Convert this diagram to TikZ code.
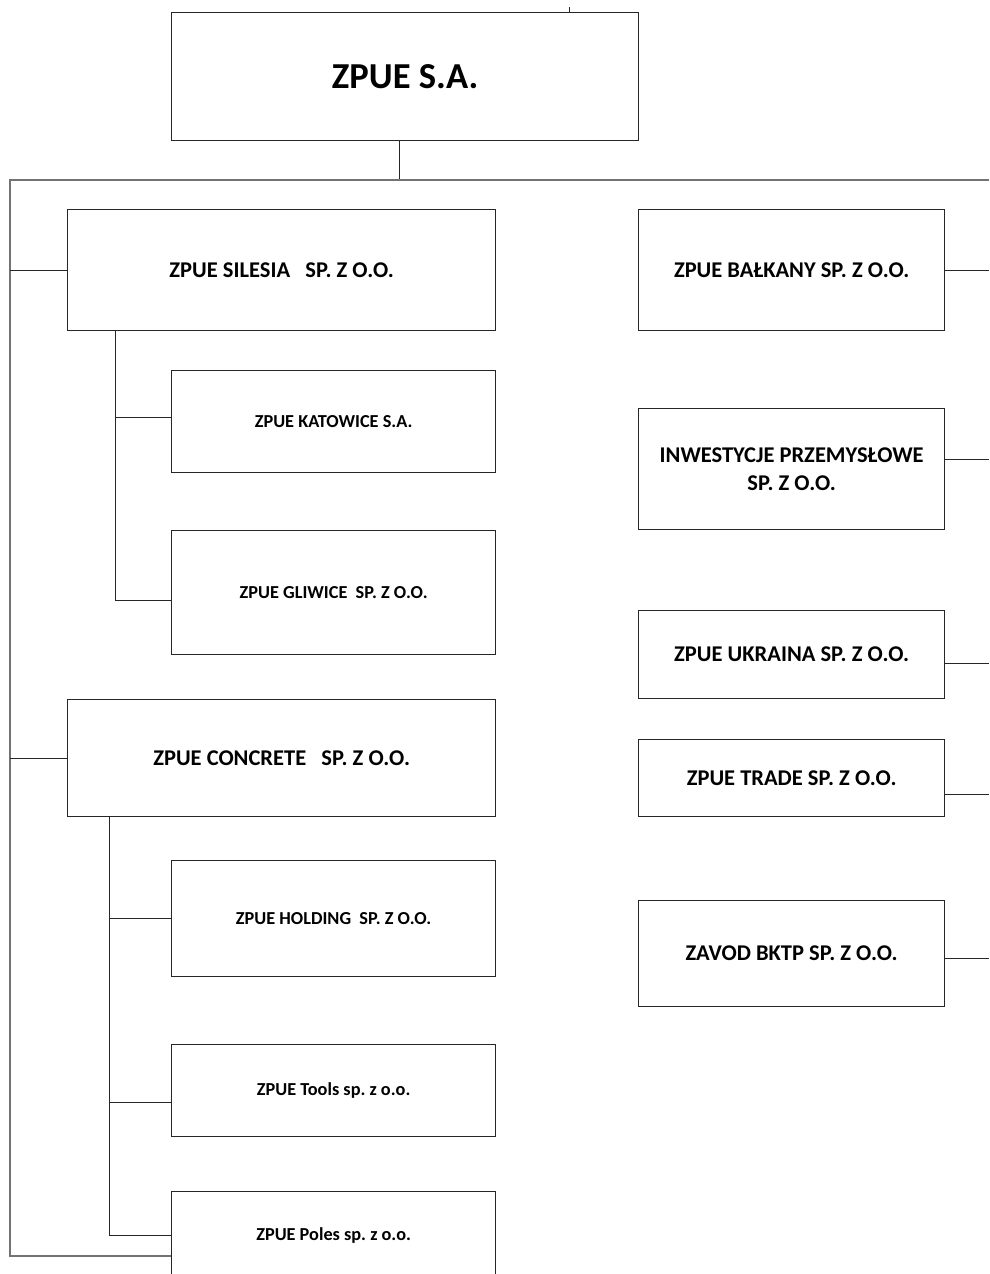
\documentclass[tikz,border=0pt]{standalone}
\usepackage{fontspec}
\setmainfont{Carlito}
\usetikzlibrary{positioning}
\frenchspacing

\begin{document}
\begin{tikzpicture}[x=0.025cm,y=-0.025cm,line width=0.7pt,
                    box/.style={draw=black!85,line width=0.9pt,anchor=north west,inner sep=0pt,align=center},
                    top node/.style={box,font=\bfseries\fontsize{26}{30}\selectfont},
                    main node/.style={box,font=\bfseries\fontsize{16}{20.5}\selectfont},
                    sub node/.style={box,font=\bfseries\fontsize{13}{16}\selectfont},
                    link/.style={draw=black!85},
                    bus/.style={draw=black!55,line width=1pt}]
                \clip (0,0) rectangle (989,1274);
                % parent
                \node[top node,minimum width=11.675cm,minimum height=3.2cm] (zpue) at (171,12) {ZPUE S.A.};
                % left column
                \node[main node,minimum width=10.7cm,minimum height=3.025cm] (silesia) at (67,209) {ZPUE SILESIA\ \ \ SP. Z O.O.};
                \node[sub node,minimum width=8.1cm,minimum height=2.55cm] (katowice) at (171,370) {ZPUE KATOWICE S.A.};
                \node[sub node,minimum width=8.1cm,minimum height=3.1cm] (gliwice) at (171,530) {ZPUE GLIWICE\ \ SP. Z O.O.};
                \node[main node,minimum width=10.7cm,minimum height=2.925cm] (concrete) at (67,699) {ZPUE CONCRETE\ \ \ SP. Z O.O.};
                \node[sub node,minimum width=8.1cm,minimum height=2.9cm] (holding) at (171,860) {ZPUE HOLDING\ \ SP. Z O.O.};
                \node[sub node,minimum width=8.1cm,minimum height=2.3cm] (tools) at (171,1044) {ZPUE Tools sp. z o.o.};
                \node[sub node,minimum width=8.1cm,minimum height=2.175cm] (poles) at (171,1191) {ZPUE Poles sp. z o.o.};
                % right column
                \node[main node,minimum width=7.65cm,minimum height=3.025cm] (balkany) at (638,209) {ZPUE BAŁKANY SP. Z O.O.};
                \node[main node,minimum width=7.65cm,minimum height=3.025cm] (inwestycje) at (638,408) {INWESTYCJE PRZEMYSŁOWE\\SP. Z O.O.};
                \node[main node,minimum width=7.65cm,minimum height=2.2cm] (ukraina) at (638,610) {ZPUE UKRAINA SP. Z O.O.};
                \node[main node,minimum width=7.65cm,minimum height=1.925cm] (trade) at (638,739) {ZPUE TRADE SP. Z O.O.};
                \node[main node,minimum width=7.65cm,minimum height=2.65cm] (zavod) at (638,900) {ZAVOD BKTP SP. Z O.O.};

                % connectors
                \coordinate (bus left) at (10,180);
                \coordinate (bus right) at (989,180);
                \coordinate (bus end) at (10,1256);
                \coordinate (silesia trunk) at (115,330);
                \coordinate (concrete trunk) at (109,816);
                \draw[link] ([xshift=4.1cm]zpue.north) -- ++(0,-5);
                \draw[link] ([xshift=-0.14cm]zpue.south) coordinate (zpue stub) -- (zpue stub |- bus left);
                \draw[bus] (bus right) -- (bus left) -- (bus end) -- (bus end -| poles.west);
                \draw[link] (silesia.west) -- (silesia.west -| bus left);
                \draw[link] (concrete.west) -- (concrete.west -| bus left);

                \draw[link] (silesia trunk) |- ([yshift=-0.2cm]gliwice.west);
                \draw[link] ([yshift=0.1cm]katowice.west) coordinate (kat stub) -- (kat stub -| silesia trunk);
                \draw[link] (concrete trunk) |- (poles.west);
                \draw[link] (holding.west) -- (holding.west -| concrete trunk);
                \draw[link] ([yshift=-0.3cm]tools.west) coordinate (tools stub) -- (tools stub -| concrete trunk);

                \draw[link] (balkany.east) -- (balkany.east -| bus right);
                \draw[link] ([yshift=0.25cm]inwestycje.east) coordinate (inw stub) -- (inw stub -| bus right);
                \draw[link] ([yshift=-0.225cm]ukraina.east) coordinate (ukr stub) -- (ukr stub -| bus right);
                \draw[link] ([yshift=-0.4cm]trade.east) coordinate (trade stub) -- (trade stub -| bus right);
                \draw[link] ([yshift=-0.125cm]zavod.east) coordinate (zavod stub) -- (zavod stub -| bus right);
\end{tikzpicture}
\end{document}
